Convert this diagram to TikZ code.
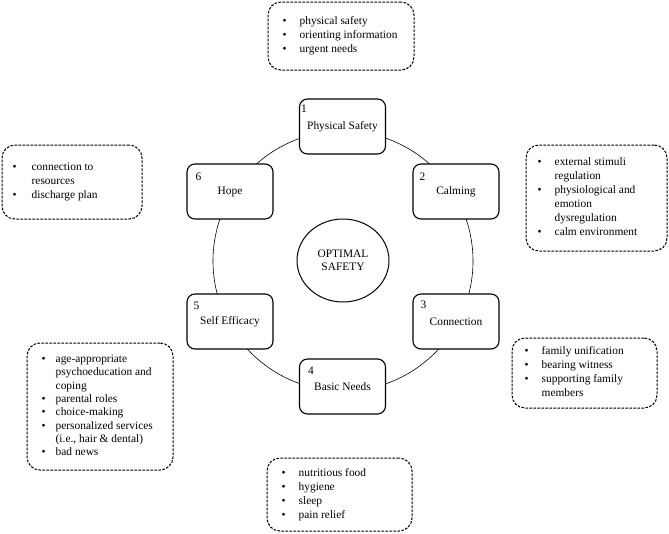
\documentclass[tikz,border=0pt]{standalone}
\usepackage{fontspec}
\setmainfont{Liberation Serif}
\usetikzlibrary{shapes.geometric}
\tikzset{
  stage/.style={draw, line width=1.1pt, rounded corners=8pt, fill=white,
    minimum width=86pt, minimum height=55pt, inner sep=0pt},
  listbox/.style={draw, dash pattern=on 2.6pt off 1.4pt, line width=1pt,
    rounded corners=13pt, inner sep=0pt},
  listtext/.style={inner sep=0pt, anchor=west, align=left},
  numlbl/.style={inner sep=0pt},
  ring/.style={line width=0.6pt},
}
\newcommand{\bl}{\textbullet}
\begin{document}
\begin{tikzpicture}[x=1pt, y=-1pt, font=\fontsize{11.4}{14}\selectfont]
\useasboundingbox (0,0) rectangle (669,533);

% ring
\coordinate (c) at (343,261);
\draw[ring] (c) circle[radius=130pt];

% stages
\node[stage] (s1) at (342.5,126.5) {Physical Safety};
\node[stage] (s2) at (456,191.5) {Calming};
\node[stage] (s3) at (456,321.5) {Connection};
\node[stage] (s4) at (342.5,386.5) {Basic Needs};
\node[stage] (s5) at (230,321.5) {Self Efficacy};
\node[stage] (s6) at (230,191.5) {Hope};

\node[numlbl] (n1) at ([shift={(5,10)}]s1.north west) {1};
\node[numlbl] (n2) at ([shift={(10,13)}]s2.north west) {2};
\node[numlbl] (n3) at ([shift={(11,11)}]s3.north west) {3};
\node[numlbl] (n4) at ([shift={(12,12)}]s4.north west) {4};
\node[numlbl] (n5) at ([shift={(10,12)}]s5.north west) {5};
\node[numlbl] (n6) at ([shift={(12,13)}]s6.north west) {6};

% centre
\node[draw, ellipse, line width=1pt, minimum width=92pt, minimum height=83pt,
      inner sep=0pt, align=center, font=\fontsize{11.4}{13}\selectfont] (opt) at (343,260.5)
      {OPTIMAL\\SAFETY};

% list boxes
\node[listbox, minimum width=146pt, minimum height=68pt] (b1) at (341,36) {};
\node[listtext] (t1) at ([xshift=15pt]b1.west) {\begin{tabular}{@{}l@{\hspace{13pt}}l@{}}
\bl & physical safety\\
\bl & orienting information\\
\bl & urgent needs
\end{tabular}};

\node[listbox, minimum width=141pt, minimum height=106pt] (b2) at (596.5,198) {};
\node[listtext] (t2) at ([xshift=12pt]b2.west) {\begin{tabular}{@{}l@{\hspace{13pt}}l@{}}
\bl & external stimuli\\
    & regulation\\
\bl & physiological and\\
    & emotion\\
    & dysregulation\\
\bl & calm environment
\end{tabular}};

\node[listbox, minimum width=145pt, minimum height=70pt] (b3) at (584.5,373) {};
\node[listtext] (t3) at ([xshift=13pt]b3.west) {\begin{tabular}{@{}l@{\hspace{13pt}}l@{}}
\bl & family unification\\
\bl & bearing witness\\
\bl & supporting family\\
    & members
\end{tabular}};

\node[listbox, minimum width=145pt, minimum height=73pt] (b4) at (339.5,494.5) {};
\node[listtext] (t4) at ([xshift=15pt]b4.west) {\begin{tabular}{@{}l@{\hspace{13pt}}l@{}}
\bl & nutritious food\\
\bl & hygiene\\
\bl & sleep\\
\bl & pain relief
\end{tabular}};

\node[listbox, minimum width=146pt, minimum height=127pt] (b5) at (100,406.5) {};
\node[listtext, font=\fontsize{11.4}{13.3}\selectfont] (t5) at ([xshift=15pt]b5.west) {\begin{tabular}{@{}l@{\hspace{10pt}}l@{}}
\bl & age-appropriate\\
    & psychoeducation and\\
    & coping\\
\bl & parental roles\\
\bl & choice-making\\
\bl & personalized services\\
    & (i.e., hair \& dental)\\
\bl & bad news
\end{tabular}};

\node[listbox, minimum width=140pt, minimum height=74pt] (b6) at (72,182) {};
\node[listtext] (t6) at ([xshift=11pt]b6.west) {\begin{tabular}{@{}l@{\hspace{15pt}}l@{}}
\bl & connection to\\
    & resources\\
\bl & discharge plan
\end{tabular}};
\end{tikzpicture}
\end{document}
